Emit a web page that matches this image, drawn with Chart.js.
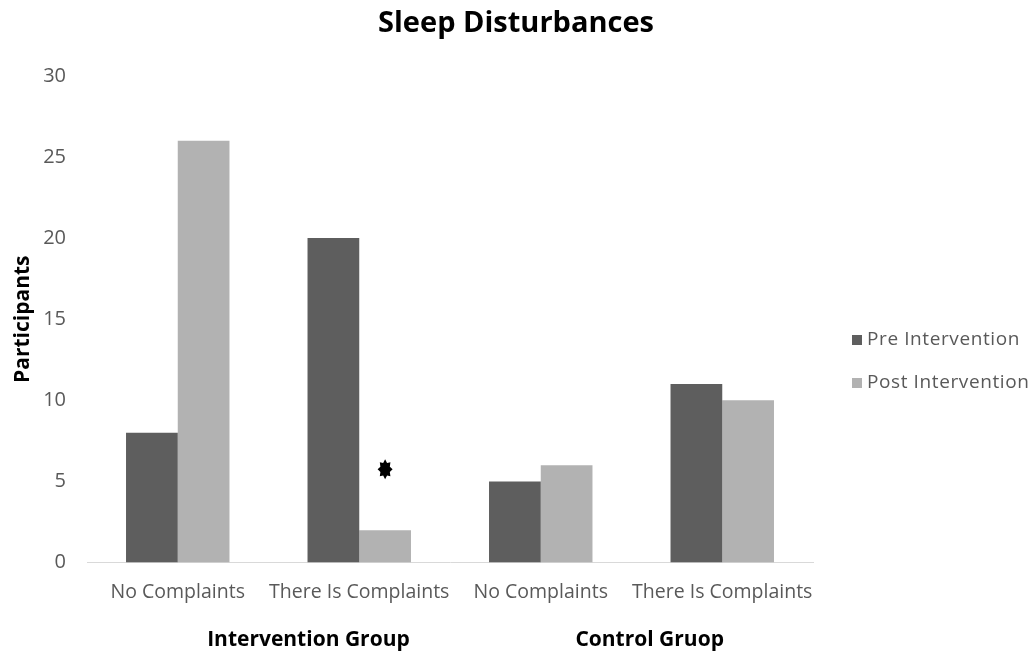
<!DOCTYPE html>
<html>
<head>
<meta charset="utf-8">
<script src="https://cdn.jsdelivr.net/npm/chart.js@4/dist/chart.umd.min.js"></script>
<style>
  body { margin: 0; background: #ffffff; }
  #wrap { width: 1032px; height: 656px; }
</style>
</head>
<body>
<div id="wrap"><canvas id="ChartCanvas" width="1032" height="656"></canvas></div>
<script>
// Data
const categories = ['No Complaints', 'There Is Complaints', 'No Complaints', 'There Is Complaints'];
const groupLabels = ['Intervention Group', 'Control Gruop'];
const groupPositions = [0.72, 2.60]; // in category units
const preValues = [8, 20, 5, 11];
const postValues = [26, 2, 6, 10];
const yMax = 30;
const yStep = 5;
// significance marker above post bar of "There Is Complaints" (intervention)
const markerIndex = 1;
const markerValue = 5.75;

const fontFamily = "'Open Sans', 'Liberation Sans', sans-serif";

// Draws the legend, the group labels under the x axis and the star marker
const extrasPlugin =
{
    id: 'extras',
    afterDatasetsDraw(chart)
    {
        const ctx = chart.ctx;
        const x = chart.scales.x;
        const y = chart.scales.y;

        // star marker
        const bar = chart.getDatasetMeta(1).data[markerIndex];
        const cx = bar.x;
        const cy = y.getPixelForValue(markerValue);
        const spikes = 8, rx = 7.5, ry = 10, innerRatio = 0.68;
        ctx.save();
        ctx.beginPath();
        for (let i = 0; i < spikes * 2; i++)
        {
            const k = (i % 2 === 0) ? 1 : innerRatio;
            const a = Math.PI * i / spikes - Math.PI / 2;
            const px = cx + Math.cos(a) * rx * k;
            const py = cy + Math.sin(a) * ry * k;
            if (i === 0) ctx.moveTo(px, py); else ctx.lineTo(px, py);
        }
        ctx.closePath();
        ctx.fillStyle = '#000000';
        ctx.fill();
        ctx.restore();

        // group labels
        ctx.save();
        ctx.font = 'bold 21px ' + fontFamily;
        ctx.fillStyle = '#000000';
        ctx.textAlign = 'center';
        ctx.textBaseline = 'middle';
        groupLabels.forEach((label, i) =>
        {
            ctx.fillText(label, x.getPixelForValue(groupPositions[i]), 640);
        });
        ctx.restore();

        // legend
        ctx.save();
        ctx.font = '19px ' + fontFamily;
        ctx.letterSpacing = '0.6px';
        ctx.textAlign = 'left';
        ctx.textBaseline = 'middle';
        chart.data.datasets.forEach((ds, i) =>
        {
            const ly = 340 + i * 43;
            ctx.fillStyle = ds.backgroundColor;
            ctx.fillRect(852, ly - 5, 10, 10);
            ctx.fillStyle = '#595959';
            ctx.fillText(ds.label, 867, ly);
        });
        ctx.restore();
    }
};

const chart = new Chart(document.getElementById('ChartCanvas').getContext('2d'),
{
    type: 'bar',
    data:
    {
        labels: categories,
        datasets:
        [
            {
                label: 'Pre Intervention',
                data: preValues,
                backgroundColor: '#5e5e5e',
                categoryPercentage: 0.57,
                barPercentage: 1.0
            },
            {
                label: 'Post Intervention',
                data: postValues,
                backgroundColor: '#b2b2b2',
                categoryPercentage: 0.57,
                barPercentage: 1.0
            }
        ]
    },
    options:
    {
        responsive: false,
        animation: false,
        layout:
        {
            padding: { left: 0, right: 0, top: 0, bottom: 34 }
        },
        plugins:
        {
            title:
            {
                display: true,
                text: 'Sleep Disturbances',
                color: '#000000',
                font: { family: fontFamily, size: 29, weight: 'bold' },
                padding: { top: 6, bottom: 35 }
            },
            legend: { display: false },
            tooltip: { enabled: false }
        },
        scales:
        {
            x:
            {
                grid: { display: false, drawTicks: false, tickLength: 0 },
                border: { display: true, color: '#d9d9d9', width: 1 },
                ticks:
                {
                    color: '#595959',
                    font: { family: fontFamily, size: 19.5 },
                    padding: 18,
                    maxRotation: 0,
                    autoSkip: false
                }
            },
            y:
            {
                min: 0,
                max: yMax,
                grid: { display: false, drawTicks: false, tickLength: 0 },
                border: { display: false },
                ticks:
                {
                    stepSize: yStep,
                    color: '#595959',
                    font: { family: fontFamily, size: 20 },
                    padding: 21
                },
                title:
                {
                    display: true,
                    text: 'Participants',
                    color: '#000000',
                    font: { family: fontFamily, size: 21, weight: 'bold' },
                    padding: { top: 10, bottom: 8 }
                },
                afterFit(scale) { scale.width = 87; }
            },
            // empty axis on the right that only reserves room for the legend
            spacer:
            {
                type: 'linear',
                position: 'right',
                grid: { display: false, drawTicks: false },
                border: { display: false },
                ticks: { display: false },
                afterFit(scale) { scale.width = 219; }
            }
        }
    },
    plugins: [extrasPlugin]
});
</script>
</body>
</html>
